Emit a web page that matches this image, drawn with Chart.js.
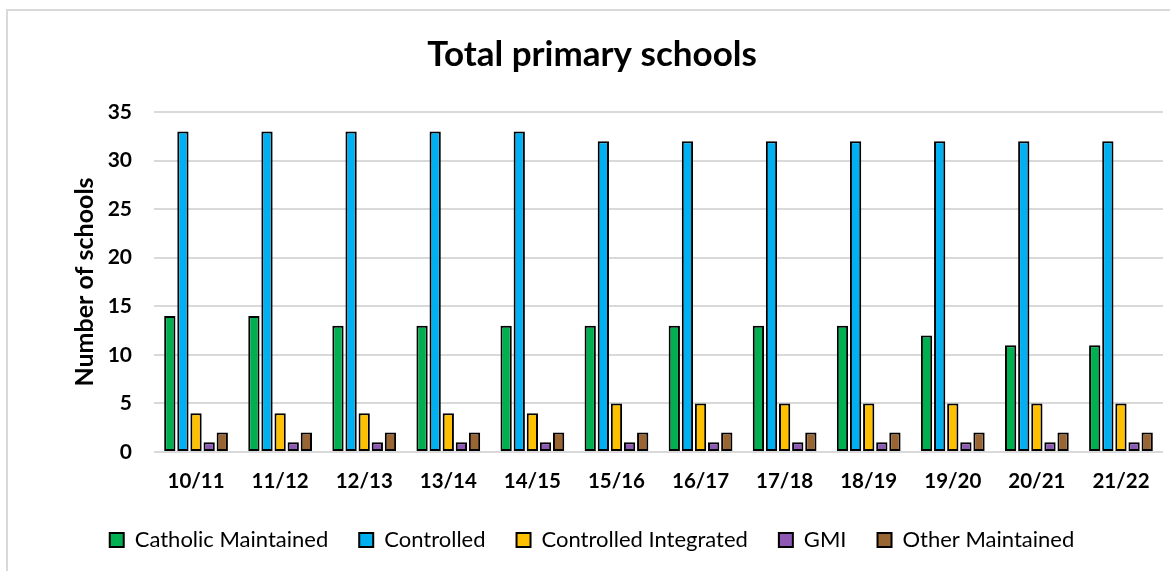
<!DOCTYPE html>
<html>
<head>
<meta charset="utf-8">
<script src="https://cdn.jsdelivr.net/npm/chart.js@4/dist/chart.umd.min.js"></script>
<style>
html,body{margin:0;padding:0;background:#fff;width:1170px;height:571px;overflow:hidden;}
#frame{position:absolute;left:6px;top:9px;width:1200px;height:700px;border:2px solid #d9d9d9;box-sizing:border-box;}
#wrap{position:absolute;left:0;top:0;width:1170px;height:571px;}
</style>
</head>
<body>
<div id="frame"></div>
<div id="wrap"><canvas id="c" width="1170" height="571"></canvas></div>
<script>
const categories = ["10/11","11/12","12/13","13/14","14/15","15/16","16/17","17/18","18/19","19/20","20/21","21/22"];
const catholicMaintained = [14,14,13,13,13,13,13,13,13,12,11,11];
const controlled = [33,33,33,33,33,32,32,32,32,32,32,32];
const controlledIntegrated = [4,4,4,4,4,5,5,5,5,5,5,5];
const gmi = [1,1,1,1,1,1,1,1,1,1,1,1];
const otherMaintained = [2,2,2,2,2,2,2,2,2,2,2,2];
const yTicks = [0,5,10,15,20,25,30,35];

const FONT = "Lato, 'Open Sans', sans-serif";
function ds(label, data, color){
  return {label, data, backgroundColor: color, borderColor: '#000', borderWidth: 2, borderSkipped: false,
    categoryPercentage: 0.78, barPercentage: 0.86};
}
new Chart(document.getElementById('c'), {
  type: 'bar',
  data: {
    labels: categories,
    datasets: [
      ds('Catholic Maintained', catholicMaintained, '#00B050'),
      ds('Controlled', controlled, '#00B0F0'),
      ds('Controlled Integrated', controlledIntegrated, '#FFC000'),
      ds('GMI', gmi, '#8E59B4'),
      ds('Other Maintained', otherMaintained, '#996633')
    ]
  },
  options: {
    responsive: false,
    animation: false,
    devicePixelRatio: 1,
    layout: {padding: {left: 21, right: 7, top: 0, bottom: 10}},
    plugins: {
      title: {display: true, text: 'Total primary schools', color: '#000',
        font: {family: FONT, size: 35, weight: 'bold'}, padding: {top: 34, bottom: 36}},
      legend: {position: 'bottom', labels: {color: '#000', font: {family: FONT, size: 22},
        boxWidth: 14, boxHeight: 14, padding: 31}},
      tooltip: {enabled: false}
    },
    scales: {
      x: {
        grid: {display: false, drawTicks: false},
        border: {display: false},
        ticks: {color: '#000', font: {family: FONT, size: 20.5, weight: 'bold'}, padding: 17, maxRotation: 0},
        afterFit: s => { s.height = 46; }
      },
      y: {
        min: 0, max: 35,
        afterBuildTicks: s => { s.ticks = yTicks.map(v => ({value: v})); },
        grid: {color: '#d9d9d9', lineWidth: 2, drawTicks: false},
        border: {display: false},
        ticks: {color: '#000', font: {family: FONT, size: 21, weight: 'bold'}, padding: 22},
        title: {display: true, text: 'Number of schools', color: '#000', font: {family: FONT, size: 25, weight: 'bold'}, padding: {top: 49, bottom: 0}},
        afterFit: s => { s.width = 133; }
      }
    }
  }
});
</script>
</body>
</html>
